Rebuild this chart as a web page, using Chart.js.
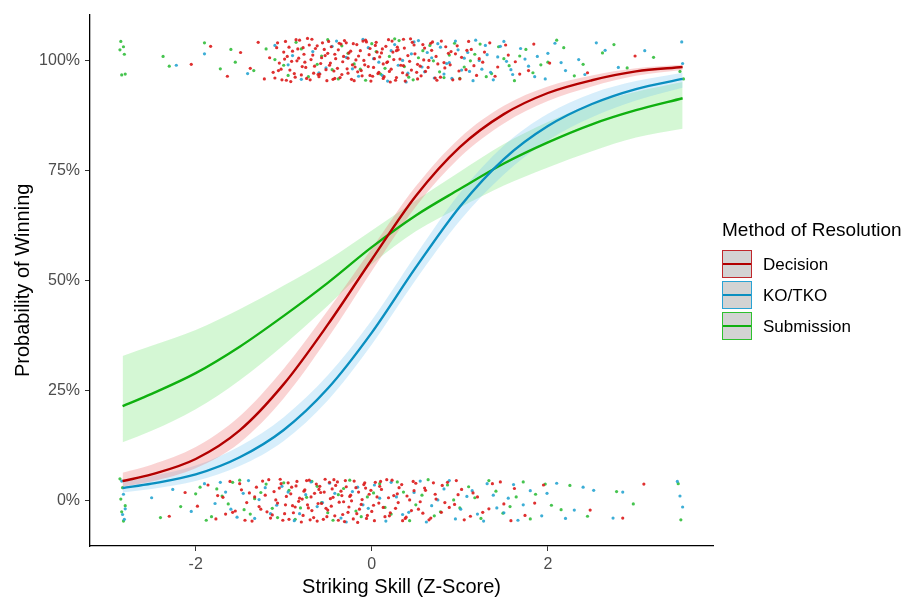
<!DOCTYPE html>
<html>
<head>
<meta charset="utf-8">
<script src="https://cdn.jsdelivr.net/npm/chart.js@4/dist/chart.umd.min.js"></script>
<style>
  html, body { margin: 0; padding: 0; background: #fff; }
  #wrap { position: relative; width: 910px; height: 599px; }
  #legend { font-family: "Liberation Sans", Arial, sans-serif; color: #000; }
  #legend .ttl { position: absolute; left: 722px; top: 220px; font-size: 19px; line-height: 1; white-space: nowrap; }
  #legend .key { position: absolute; left: 722px; width: 30px; height: 28px; box-sizing: border-box; background: #d3d3d3; border: 1.5px solid; }
  #legend .key i { position: absolute; left: 0; right: 0; top: 11.5px; height: 2.5px; }
  #legend .lab { position: absolute; left: 763px; font-size: 17px; line-height: 1; white-space: nowrap; }
</style>
</head>
<body>
<div id="wrap">
  <canvas id="chart" width="910" height="599"></canvas>
  <div id="legend"></div>
</div>
<script>
// fitted curves (percent)
const fitX = [-2.83, -2.5, -2, -1.5, -1, -0.5, 0, 0.5, 1, 1.5, 2, 2.5, 3, 3.53];

const decisionFit  = [4.5, 6, 9.5, 16, 26.5, 40, 54.8, 69.2, 80.3, 87.8, 92.6, 95.5, 97.5, 98.5];
const decisionLow  = [3.2, 4.4, 7.4, 13.2, 23.3, 36.9, 52.2, 66.8, 78.0, 85.7, 90.8, 94.1, 96.5, 97.8];
const decisionHigh = [6.4, 8.2, 12.2, 19.2, 30.0, 43.2, 57.3, 71.4, 82.4, 89.7, 94.1, 96.6, 98.2, 99.0];

const koFit  = [2.9, 3.9, 6.0, 9.9, 16.1, 25.5, 38.2, 53.0, 66.8, 77.6, 85.1, 90.1, 93.5, 95.8];
const koLow  = [1.9, 2.7, 4.5, 7.9, 13.6, 22.8, 35.5, 50.2, 63.6, 74.1, 81.8, 87.1, 90.9, 93.8];
const koHigh = [4.3, 5.6, 8.0, 12.4, 19.0, 28.5, 41.0, 55.8, 69.9, 80.7, 87.9, 92.5, 95.3, 97.2];

const subFit  = [21.5, 24.3, 29, 35, 42, 49.5, 57.6, 64.8, 70.8, 76.6, 81.4, 85.5, 88.7, 91.4];
const subLow  = [13.3, 15.9, 20.8, 27.4, 35.4, 44.3, 53.7, 61.2, 66.6, 71.6, 75.7, 79.4, 82.5, 84.5];
const subHigh = [32.9, 35.2, 38.8, 43.5, 48.9, 54.7, 61.4, 68.2, 74.7, 81.0, 86.0, 90.1, 92.9, 95.1];

// jittered fights (x, y pairs) - wins near 100%, losses near 0%
const decisionWins = [-2.05,99.1, -1.83,103.2, -1.64,96.4, -1.49,101.8, -1.38,98.2, -1.29,104.1, -1.22,95.8, -1.16,100.6, -1.12,97.3,
  -1.08,102.9, -1.05,99.4, -1.02,95.6, -0.98,104.3, -0.96,100.9, -0.93,97.8, -0.9,102.1, -0.87,96.2, -0.85,99.9, -0.82,104.6,
  -0.79,98.6, -0.77,101.4, -0.74,95.9, -0.71,103.5, -0.69,100.2, -0.66,97.1, -0.64,102.7, -0.61,96.8, -0.58,99.3, -0.56,104.0,
  -0.53,101.1, -0.51,95.4, -0.48,98.9, -0.46,103.1, -0.43,97.6, -0.41,100.4, -0.38,102.4, -0.36,96.1, -0.33,99.7, -0.31,104.5,
  -0.28,98.1, -0.26,101.7, -0.23,95.7, -0.21,103.8, -0.18,100.1, -0.16,97.4, -0.13,102.2, -0.11,96.5, -0.08,99.0, -0.06,104.2,
  -0.03,101.3, -0.01,95.3, 0.02,98.4, 0.04,103.4, 0.07,97.0, 0.09,100.8, 0.12,102.6, 0.14,96.3, 0.17,99.5, 0.19,104.7,
  0.22,98.0, 0.24,101.9, 0.27,95.5, 0.29,103.0, 0.32,100.3, 0.35,97.2, 0.37,102.8, 0.4,96.7, 0.43,99.8, 0.46,104.1,
  0.49,101.5, 0.52,95.8, 0.55,98.7, 0.58,103.6, 0.61,97.5, 0.65,100.0, 0.68,102.3, 0.72,96.0, 0.75,99.2, 0.79,104.4,
  0.83,98.3, 0.87,101.6, 0.92,95.6, 0.97,103.3, 1.02,100.7, 1.07,97.9, 1.13,102.5, 1.19,96.6, 1.26,99.6, 1.34,104.0,
  1.43,98.5, 1.55,101.2, 1.68,96.9, 1.84,103.7, 2.02,99.4, 2.45,97.2, 2.99,101.0,
  -1.06,97.7, -0.99,100.3, -0.92,95.2, -0.84,102.6, -0.76,99.6, -0.68,104.8, -0.59,96.9, -0.5,101.6, -0.42,95.9, -0.35,103.7,
  -0.27,100.5, -0.19,98.5, -0.1,104.4, -0.02,96.6, 0.06,101.9, 0.13,99.2, 0.21,95.1, 0.28,102.2, 0.36,98.8, 0.44,104.9,
  0.51,97.3, 0.59,100.1, 0.67,103.9, 0.74,95.5, 0.82,99.5, 0.9,102.0, 0.99,97.6, 1.1,104.3, 1.22,100.4,
  -1.1,96.0, -1.07,104.0, -1.03,98.0, -1.0,101.9, -0.97,95.5, -0.94,103.0, -0.91,99.8, -0.88,97.0, -0.86,104.7, -0.83,100.5,
  -0.8,96.7, -0.78,102.9, -0.75,98.4, -0.73,105.0, -0.7,95.6, -0.67,101.2, -0.65,98.7, -0.62,103.3, -0.6,96.3, -0.57,100.6,
  -0.54,102.5, -0.52,97.9, -0.49,104.3, -0.47,99.4, -0.44,95.7, -0.42,101.4, -0.39,98.2, -0.37,103.9, -0.34,96.8, -0.32,100.9,
  -0.29,104.0, -0.27,97.1, -0.24,102.1, -0.22,99.0, -0.2,95.4, -0.17,103.6, -0.15,101.0, -0.12,97.7, -0.09,100.0, -0.07,104.6,
  -0.04,98.6, -0.02,102.7, 0.01,96.4, 0.03,100.4, 0.05,104.1, 0.08,97.3, 0.11,101.7, 0.13,95.9, 0.16,103.2, 0.18,99.7,
  0.2,97.5, 0.23,104.4, 0.25,100.2, 0.28,96.1, 0.3,102.4, 0.33,98.9, 0.36,104.8, 0.38,95.3, 0.41,101.1, 0.45,97.8,
  0.48,103.5, 0.52,99.1, 0.56,96.5, 0.6,102.8, 0.64,98.4, 0.69,104.2, 0.73,100.9, 0.78,96.2, 0.84,103.1, 0.89,99.0,
  0.95,101.5, 1.0,95.8, 1.08,102.3, 1.16,98.8, 1.28,101.9, 1.4,96.4, 1.52,103.5, 1.63,99.7, 1.78,97.7];

const koWins = [-2.22,98.9, -1.9,101.5, -1.41,97.0, -1.1,103.4, -0.95,99.0, -0.8,95.7, -0.67,102.0, -0.52,98.3, -0.4,104.4,
  -0.29,100.7, -0.15,96.4, -0.04,102.9, 0.08,99.6, 0.18,95.3, 0.26,103.6, 0.35,100.0, 0.41,97.1, 0.48,104.2, 0.57,98.5,
  0.63,101.8, 0.71,96.0, 0.78,103.0, 0.85,99.3, 0.91,95.9, 0.98,102.4, 1.05,100.5, 1.11,97.5, 1.18,104.6, 1.25,98.0,
  1.31,101.3, 1.38,95.6, 1.46,103.2, 1.53,99.8, 1.6,96.8, 1.69,102.7, 1.78,98.7, 1.88,100.9, 1.97,95.8, 2.08,103.9,
  2.2,97.7, 2.35,100.2, 2.55,104.0, 2.8,98.4, 3.1,102.2, 3.52,104.2, 3.53,99.3,
  -0.9,101.1, -0.6,97.2, -0.45,103.2, -0.22,98.1, -0.1,104.8, 0.02,100.4, 0.12,96.6, 0.22,102.2, 0.3,98.9, 0.39,95.1,
  0.45,101.5, 0.53,104.5, 0.6,97.4, 0.68,100.6, 0.75,103.8, 0.82,96.9, 0.88,99.5, 0.95,104.4, 1.02,97.8, 1.09,101.8,
  1.15,95.4, 1.22,100.0, 1.29,103.4, 1.35,97.3, 1.43,100.8, 1.5,104.3, 1.58,97.9, 1.74,100.3, 1.85,96.3, 2.0,101.6,
  2.15,99.5, 2.42,96.8, 2.65,102.3];

const subWins = [-2.85,104.3, -2.82,103.1, -2.86,102.4, -2.81,101.4, -2.84,96.7, -2.8,96.9, -2.37,100.9, -2.3,98.7,
  -1.9,104.0, -1.72,98.1, -1.55,99.6, -1.34,97.7, -1.2,102.6, -1.0,98.9, -0.86,104.1, -0.72,96.3, -0.57,101.0, -0.45,97.9,
  -0.34,103.3, -0.2,99.2, -0.07,95.5, 0.05,102.0, 0.15,98.2, 0.31,104.5, 0.42,96.2, 0.53,100.6, 0.66,103.4, 0.77,97.4,
  0.88,101.2, 1.0,95.9, 1.12,99.9, 1.23,103.7, 1.36,97.0, 1.5,100.4, 1.62,95.4, 1.75,102.5, 1.92,99.0, 2.1,104.6,
  2.3,96.5, 2.62,101.7, 2.9,98.3, 3.5,97.5, 3.54,95.8,
  -1.6,102.5, -1.1,100.2, -0.95,96.6, -0.8,102.6, -0.62,99.1, -0.5,104.7, -0.38,95.8, -0.27,101.6, -0.13,98.0, 0.0,103.8,
  0.1,96.9, 0.2,100.9, 0.26,104.9, 0.37,98.6, 0.47,95.6, 0.58,102.2, 0.7,99.9, 0.82,96.1, 0.94,103.9, 1.05,98.5,
  1.17,101.4, 1.3,96.3, 1.44,103.1, 1.56,98.8, 1.68,101.0, 1.83,97.2, 2.0,99.6, 2.18,102.9, 2.4,99.1, 2.75,103.6, 3.2,100.7];

const decisionLosses = [-2.3,-3.5, -2.12,1.9, -1.98,-1.2, -1.86,3.6, -1.77,-4.1, -1.69,0.8, -1.61,4.4, -1.55,-2.3, -1.48,2.5,
  -1.42,-0.4, -1.36,-4.6, -1.31,3.1, -1.26,-1.9, -1.21,1.3, -1.17,4.8, -1.13,-3.2, -1.09,0.2, -1.05,2.9, -1.01,-4.4,
  -0.98,-0.9, -0.95,4.1, -0.92,1.6, -0.89,-2.7, -0.86,3.4, -0.83,-0.1, -0.8,-4.8, -0.77,2.2, -0.74,4.6, -0.72,-1.6,
  -0.69,0.9, -0.66,-3.8, -0.63,3.8, -0.61,-0.6, -0.58,1.9, -0.55,-4.2, -0.53,4.9, -0.5,-2.1, -0.47,0.5, -0.45,2.7,
  -0.42,-3.4, -0.39,4.3, -0.37,-0.3, -0.34,1.2, -0.31,-4.7, -0.29,3.2, -0.26,-1.4, -0.23,0.0, -0.2,4.5, -0.17,-2.9,
  -0.15,2.0, -0.12,-0.8, -0.09,3.7, -0.06,-4.0, -0.03,1.5, 0.0,-2.4, 0.04,4.2, 0.08,-0.5, 0.11,2.6, 0.15,-3.6,
  0.19,0.7, 0.23,4.7, 0.27,-1.7, 0.31,3.0, 0.35,-4.5, 0.4,1.1, 0.45,-2.2, 0.5,4.0, 0.55,-0.2, 0.61,2.4, 0.67,-3.9,
  0.73,0.4, 0.8,3.5, 0.88,-1.5, 0.96,4.6, 1.05,-4.3, 1.15,1.8, 1.26,-2.6, 1.37,3.9, 1.5,-0.7, 1.62,2.8, 1.74,-3.3,
  1.95,3.6, 2.48,-2.1, 2.85,-3.9, 3.09,3.8,
  -1.66,-3.0, -1.39,1.8, -1.19,-2.5, -1.03,3.9, -0.9,-1.1, -0.79,0.4, -0.7,-4.3, -0.6,2.6, -0.52,-1.7, -0.43,4.8,
  -0.33,-3.1, -0.25,1.0, -0.16,-4.9, -0.07,2.9, 0.02,-1.0, 0.1,4.4, 0.2,-3.4, 0.29,1.6, 0.38,-4.0, 0.48,2.3,
  0.58,-2.8, 0.7,4.1, 0.83,-0.4, 0.98,1.4,
  -1.75,1.2, -1.58,-2.6, -1.5,3.9, -1.44,-4.4, -1.33,0.9, -1.28,-1.3, -1.24,4.5, -1.15,-3.9, -1.11,2.1, -1.07,-0.5,
  -1.04,4.9, -0.99,-2.9, -0.97,1.0, -0.94,-4.2, -0.91,3.1, -0.87,-1.4, -0.85,4.4, -0.82,0.6, -0.78,-3.3, -0.76,2.5,
  -0.73,-0.9, -0.71,4.7, -0.68,-2.2, -0.65,1.7, -0.62,-4.6, -0.59,3.3, -0.57,-0.6, -0.54,2.0, -0.51,-3.6, -0.48,4.2,
  -0.46,-1.2, -0.44,0.8, -0.41,3.5, -0.38,-4.4, -0.35,2.2, -0.32,-0.2, -0.3,4.6, -0.27,-2.6, -0.24,1.3, -0.21,-4.1,
  -0.18,3.0, -0.14,-1.9, -0.11,0.3, -0.08,4.1, -0.05,-3.3, -0.01,2.4, 0.03,-4.5, 0.06,0.9, 0.09,3.3, 0.13,-1.5,
  0.17,4.8, 0.21,-2.7, 0.25,1.2, 0.3,-0.4, 0.34,3.7, 0.39,-3.7, 0.43,0.2, 0.47,4.4, 0.53,-1.9, 0.6,2.9,
  0.65,-4.3, 0.72,1.5, 0.79,-2.6, 0.86,4.2, 0.94,-0.8, 1.02,2.6, 1.12,-3.5, 1.2,0.9, 1.33,-1.8, 1.46,4.3,
  1.58,-4.5, 1.85,-0.5];

const koLosses = [-2.84,4.5, -2.82,1.5, -2.8,-1.8, -2.83,-3.1, -2.81,-4.2, -2.26,2.6, -2.05,-2.4, -1.9,3.9, -1.78,-0.6,
  -1.66,2.0, -1.53,-3.7, -1.4,4.6, -1.28,0.3, -1.15,-2.9, -1.02,3.3, -0.88,-4.5, -0.75,1.4, -0.62,-1.3, -0.48,4.0,
  -0.35,-3.9, -0.22,2.1, -0.1,-0.9, 0.03,3.6, 0.16,-4.6, 0.28,0.9, 0.42,-2.6, 0.55,4.5, 0.68,-1.1, 0.82,2.7, 0.95,-4.1,
  1.08,1.0, 1.2,-3.0, 1.31,3.9, 1.42,-1.6, 1.55,0.6, 1.66,-4.4, 1.8,2.3, 1.93,-3.4, 2.1,4.0, 2.3,-2.1, 2.52,2.4,
  2.74,-3.9, 2.85,2.0, 3.47,4.4, 3.5,1.1, 3.53,-1.4,
  -2.5,0.7, -1.72,4.2, -1.6,-1.9, -1.46,1.7, -1.33,-4.0, -1.21,3.0, -1.08,-1.0, -0.95,2.0, -0.82,-2.9, -0.69,4.3,
  -0.56,-0.4, -0.42,1.7, -0.29,-4.8, -0.16,3.1, -0.04,-1.7, 0.09,0.6, 0.22,4.2, 0.35,-3.1, 0.48,1.9, 0.62,-4.8,
  0.75,0.2, 0.88,4.6, 1.01,-1.9, 1.14,2.3, 1.27,-4.6, 1.38,1.3, 1.5,-2.7, 1.61,3.7, 1.72,-0.9, 1.99,1.7, 2.2,-4.0, 2.4,3.1];

const subLosses = [-2.86,5.0, -2.83,3.0, -2.85,0.4, -2.8,-1.1, -2.84,-2.5, -2.82,-4.6, -2.17,-1.3, -1.95,3.1, -1.82,-3.6,
  -1.7,1.1, -1.58,4.2, -1.45,-2.0, -1.33,0.5, -1.2,3.8, -1.07,-3.8, -0.94,2.4, -0.81,-1.6, -0.68,4.4, -0.57,-0.4,
  -0.44,-4.4, -0.32,2.8, -0.18,-2.3, -0.05,0.9, 0.09,3.9, 0.22,-3.0, 0.36,2.0, 0.5,-0.9, 0.64,4.8, 0.78,-2.5,
  0.93,0.2, 1.1,3.2, 1.24,-4.0, 1.41,2.2, 1.57,-1.3, 1.72,4.3, 1.86,1.5, 2.04,-1.0, 2.25,3.5, 2.45,-3.5, 2.78,2.1,
  2.97,-0.7, 3.51,-4.3, 3.48,3.9,
  -2.4,-3.8, -2.0,1.6, -1.88,-4.4, -1.76,2.7, -1.63,-0.7, -1.5,4.7, -1.38,-3.0, -1.26,1.9, -1.13,-1.7, -1.0,4.1,
  -0.87,-4.2, -0.74,0.8, -0.62,3.3, -0.5,-2.7, -0.38,1.4, -0.25,4.7, -0.12,-3.6, 0.02,1.8, 0.15,-1.5, 0.29,4.3,
  0.43,-4.5, 0.57,1.3, 0.71,-3.4, 0.86,3.6, 1.0,-1.6, 1.17,0.7, 1.33,4.6, 1.49,-2.8, 1.64,0.9, 1.8,-4.1, 1.97,3.8, 2.15,-2.0];

const xTicks = [-2, 0, 2];
const yTicks = [0, 25, 50, 75, 100];

const methods = ["Decision", "KO/TKO", "Submission"];
const lineColors = ["#b20000", "#0a8fc0", "#0fb00f"];
const bandColors = ["rgba(240,110,110,0.30)", "rgba(110,195,240,0.28)", "rgba(90,225,90,0.26)"];
const dotColors = ["rgba(220,25,25,0.9)", "rgba(40,165,210,0.9)", "rgba(50,190,60,0.9)"];
const keyBorders = ["#c0282c", "#2aa3d4", "#2fc02f"];

const font = "'Liberation Sans', Arial, sans-serif";

function toPoints(xsArr, ysArr) {
  return xsArr.map(function (x, i) { return { x: x, y: ysArr[i] }; });
}

function pairs(flat) {
  let pts = [];
  for (let i = 0; i < flat.length; i += 2) {
    pts.push({ x: flat[i], y: flat[i + 1] });
  }
  return pts;
}

const fits = [decisionFit, koFit, subFit];
const lows = [decisionLow, koLow, subLow];
const highs = [decisionHigh, koHigh, subHigh];
const wins = [decisionWins, koWins, subWins];
const losses = [decisionLosses, koLosses, subLosses];

let datasets = [];

// points (drawn first, under everything)
let k = 0;
while (k < methods.length) {
  datasets.push({
    label: methods[k] + " fights",
    data: pairs(wins[k]).concat(pairs(losses[k])),
    pointRadius: 1.6,
    pointBorderWidth: 0,
    pointBackgroundColor: dotColors[k],
    showLine: false,
    order: 3
  });
  k++;
}

// confidence bands
k = 0;
while (k < methods.length) {
  datasets.push({
    label: methods[k] + " low",
    data: toPoints(fitX, lows[k]),
    showLine: true,
    borderWidth: 0,
    pointRadius: 0,
    cubicInterpolationMode: "monotone",
    fill: false,
    order: 2
  });
  datasets.push({
    label: methods[k] + " high",
    data: toPoints(fitX, highs[k]),
    showLine: true,
    borderWidth: 0,
    pointRadius: 0,
    cubicInterpolationMode: "monotone",
    backgroundColor: bandColors[k],
    fill: "-1",
    order: 2
  });
  k++;
}

// fitted lines on top
k = 0;
while (k < methods.length) {
  datasets.push({
    label: methods[k],
    data: toPoints(fitX, fits[k]),
    showLine: true,
    borderColor: lineColors[k],
    borderWidth: 2.4,
    pointRadius: 0,
    cubicInterpolationMode: "monotone",
    fill: false,
    order: 1
  });
  k++;
}

new Chart(document.getElementById("chart"), {
  type: "scatter",
  data: { datasets: datasets },
  options: {
    responsive: false,
    animation: false,
    devicePixelRatio: 1,
    layout: { padding: { left: 0, right: 197, top: 12, bottom: 0 } },
    plugins: { legend: { display: false }, tooltip: { enabled: false } },
    scales: {
      x: {
        type: "linear",
        min: -3.2,
        max: 3.875,
        afterBuildTicks: function (s) { s.ticks = xTicks.map(function (v) { return { value: v }; }); },
        afterFit: function (s) { s.height = 53; },
        grid: { display: true, drawOnChartArea: false, drawTicks: true, tickLength: 5, color: "#333" },
        border: { display: true, color: "#000", width: 1.3 },
        ticks: { color: "#4d4d4d", font: { family: font, size: 16 }, padding: 4 },
        title: { display: true, text: "Striking Skill (Z-Score)", color: "#000", font: { family: font, size: 20 }, padding: { top: 0, bottom: 0 } }
      },
      y: {
        type: "linear",
        min: -10.25,
        max: 110.4,
        afterBuildTicks: function (s) { s.ticks = yTicks.map(function (v) { return { value: v }; }); },
        afterFit: function (s) { s.width = 90; },
        grid: { display: true, drawOnChartArea: false, drawTicks: true, tickLength: 5, color: "#333" },
        border: { display: true, color: "#000", width: 1.3 },
        ticks: { color: "#4d4d4d", font: { family: font, size: 16 }, padding: 5, callback: function (v) { return v + "%"; } },
        title: { display: true, text: "Probability of Winning", color: "#000", font: { family: font, size: 20 }, padding: { top: 11, bottom: 0 } }
      }
    }
  }
});

// legend in html
const legend = document.getElementById("legend");
let html = '<div class="ttl">Method of Resolution</div>';
const keyTops = [250, 281, 312];
k = 0;
while (k < methods.length) {
  html += '<div class="key" style="top:' + keyTops[k] + 'px;border-color:' + keyBorders[k] + '"><i style="background:' + lineColors[k] + '"></i></div>';
  html += '<div class="lab" style="top:' + (keyTops[k] + 6) + 'px">' + methods[k] + '</div>';
  k++;
}
legend.innerHTML = html;
</script>
</body>
</html>
